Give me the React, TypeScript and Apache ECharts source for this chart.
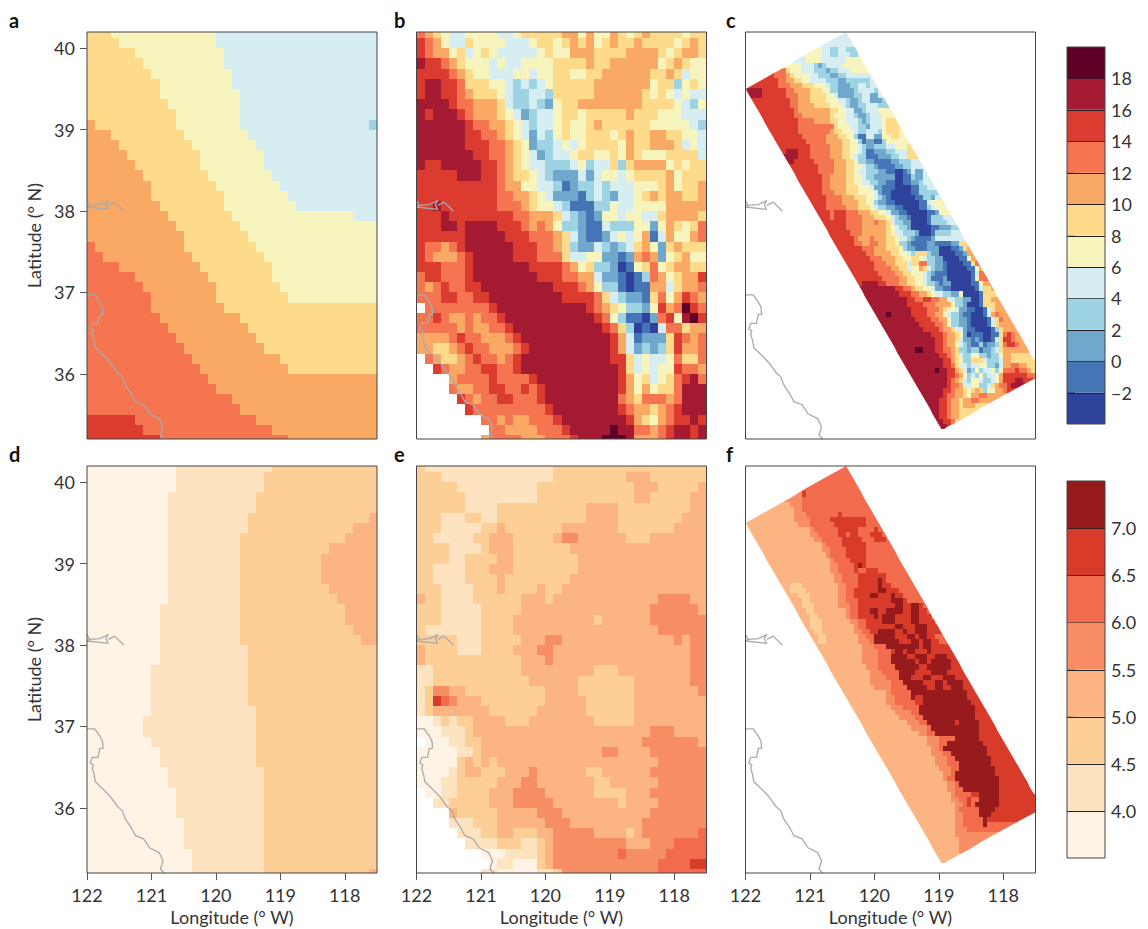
import React, { useEffect, useRef } from "react";
import * as echarts from "echarts";

// Row data: each token is <level><end column>; "." means no data.
const panelA = [
  "63 516 436","64 516 436","66 517 436","67 517 436","68 518 436","69 518 436","69 519 436","610 519 436","611 519 436",
  "71 611 519 435 336","73 612 520 436","74 613 521 436","75 614 522 436","76 614 522 436","77 615 523 436","78 616 524 436",
  "78 617 525 436","79 617 526 436","710 618 533 436","711 619 536","712 620 536","81 712 621 536","82 713 622 536",
  "84 714 623 536","86 715 623 536","87 716 624 536","88 716 625 536","88 717 636","89 719 636","810 720 636","811 721 636",
  "812 722 636","813 724 636","814 725 636","815 736","816 736","818 736","819 736","96 821 736","97 823 736","99 825 736",
];
const panelB = [
  "81 72 63 54 46 510 412 513 618 720 521 722 524 725 626 527 628 729 633 534 636",
  "91 82 73 54 46 67 511 414 515 617 518 619 720 621 722 523 624 725 627 728 632 533 634 735 636",
  "91 82 74 55 66 47 58 69 510 415 516 617 519 722 626 730 631 532 633 735 636",
  "a1 93 84 75 66 59 410 511 413 517 621 722 624 730 531 632 733 634 536",
  "94 85 76 67 59 412 514 415 517 619 521 623 729 631 732 633 434 536",
  "91 a3 95 86 69 511 412 313 414 315 416 517 622 729 530 632 333 534 635 536",
  "91 a3 95 86 77 610 511 412 314 416 317 622 728 629 530 631 532 433 534 436",
  "a4 95 87 710 611 412 314 415 316 217 518 620 728 632 533 434 335 536",
  "a1 92 a5 96 87 710 611 512 413 214 315 417 518 620 521 626 727 630 533 436",
  "a6 97 89 711 612 513 414 315 417 518 619 521 622 723 629 534 435 336",
  "a6 98 810 711 612 513 414 215 416 317 518 619 521 624 525 626 727 629 731 633 535 436",
  "a6 99 811 712 613 514 215 317 418 519 420 521 625 526 727 629 732 633 434 535 436",
  "a7 99 811 712 613 514 415 216 317 419 520 622 524 625 526 727 628 531 635 436",
  "a1 93 a8 910 811 712 613 514 416 319 420 521 322 424 625 326 627 731 532 633 534 636",
  "95 a8 910 811 712 614 515 416 317 220 421 222 423 525 426 527 631 732 533 636",
  "910 811 713 515 417 318 119 220 322 423 324 427 530 631 732 533 635 736",
  "910 812 714 615 516 417 220 121 322 423 324 225 427 528 629 730 631 733 635 736",
  "92 a3 910 813 714 615 517 418 319 122 324 525 427 531 736",
  "93 a4 912 814 717 618 419 320 221 122 223 525 426 528 430 631 735 636",
  "93 a5 96 a10 913 814 715 816 717 518 320 221 123 424 327 529 230 531 732 633 534 635 836",
  "96 a11 914 817 718 619 420 221 123 224 425 526 427 528 729 130 431 732 534 735 836",
  "91 83 74 85 96 a12 915 817 718 619 320 222 423 324 225 326 427 628 729 530 231 632 733 636",
  "91 82 75 86 97 a12 915 818 619 421 523 225 126 227 728 829 730 231 532 633 734 536",
  "93 86 97 a14 918 819 720 521 622 324 225 026 127 528 629 830 531 632 734 636",
  "81 93 86 97 a15 918 820 722 423 225 126 027 128 329 830 731 532 633 735 936",
  "81 72 83 94 86 98 a17 920 821 722 523 325 126 027 129 731 432 633 735 836",
  "83 95 87 99 a18 922 823 624 425 326 228 129 630 831 532 733 934 835 736",
  ".1 89 910 a21 922 823 724 625 526 328 229 530 931 732 833 b34 935 836",
  "82 93 84 76 87 78 810 911 a22 923 824 525 326 128 029 230 831 932 533 a34 b35 936",
  "85 76 87 79 811 912 a23 924 825 626 327 028 129 030 431 833 634 736",
  "74 85 96 88 711 812 913 a24 925 726 427 128 231 632 933 834 735 836",
  "72 64 75 86 97 89 712 813 914 a24 925 726 427 228 329 230 331 632 933 735 836",
  ".1 82 73 65 76 87 98 810 711 812 913 a24 926 627 428 529 431 532 833 635 836",
  ".2 93 84 76 88 910 812 913 a25 926 627 428 529 430 532 933 835 736",
  ".4 75 89 910 814 915 a25 926 727 528 629 430 531 632 833 934 a35 836",
  ".4 85 77 89 911 813 914 815 916 a25 926 727 528 729 530 632 833 a36",
  ".5 96 87 78 810 912 815 916 a25 826 727 628 831 732 833 a36",
  ".6 97 816 917 a25 926 827 729 630 731 832 933 a36",
  ".8 810 711 812 714 817 918 a26 927 728 629 530 731 832 934 a35 936",
  ".9 811 715 818 919 a24 b25 a27 829 730 831 932 a34 935 a36",
  ".8 79 813 716 819 920 a23 b26 a27 730 831 932 a34 935 a36",
];
const panelC = [
  "472","472","472","519 421 323 425 328 472","519 421 323 426 328 472","415 519 425 530 472",
  "514 417 318 219 320 424 530 472","810 611 514 417 320 221 323 426 531 472","97 810 711 612 516 418 321 223 325 472",
  "98 810 712 614 516 420 323 225 331 472","98 811 714 617 520 421 323 226 328 430 331 472",
  "a4 910 812 716 619 521 323 227 328 432 333 472","a4 910 813 716 620 522 423 227 329 431 233 472",
  "911 813 716 620 523 425 326 228 329 431 234 372","911 813 717 621 524 425 326 228 330 433 372",
  "912 813 721 623 525 427 229 330 433 572","912 814 721 622 525 427 328 230 331 434 572",
  "913 817 721 623 525 428 329 230 331 434 535 672","913 822 623 526 428 330 231 434 535 672",
  "913 821 722 624 527 428 330 433 334 535 638 572","914 820 723 625 527 328 130 432 234 536 638 572",
  "915 820 724 626 528 329 130 232 134 335 572","916 821 724 626 528 429 330 232 335 437 540 672",
  "910 a13 916 821 724 626 528 429 330 132 235 337 440 672","a13 916 821 724 626 527 428 330 133 236 338 440 672",
  "a12 917 822 725 627 528 330 232 136 238 341 472","918 822 725 627 529 430 332 233 137 239 341 472",
  "918 822 725 627 528 430 333 235 137 039 140 241 442 244 472","919 821 725 627 529 430 332 237 039 141 342 244 472",
  "919 821 725 627 529 431 333 235 137 039 141 243 344 472","919 821 725 628 531 432 234 137 041 143 345 472",
  "919 822 725 628 532 433 234 136 041 143 372","920 824 727 630 532 433 334 235 136 042 144 346 247 472",
  "920 824 728 630 532 333 235 137 043 145 446 549 472","920 825 728 631 532 433 335 237 139 043 145 346 447 572",
  "921 822 925 828 731 633 535 436 238 140 045 147 248 572","921 822 925 829 732 635 536 437 338 240 141 045 146 349 472",
  "925 829 732 833 735 636 437 339 241 045 146 350 472","925 829 735 636 537 438 340 241 046 148 251 372",
  "926 829 735 636 537 439 342 243 046 147 351 472","927 828 731 832 735 637 538 440 341 242 146 247 472",
  "927 829 731 833 735 637 538 340 241 145 247 151 253 672","929 832 735 638 539 340 242 145 248 051 153 254 655 772",
  "930 832 736 638 540 441 342 645 346 248 052 154 255 772","931 834 737 639 541 643 544 445 347 249 053 155 556 772",
  "932 835 737 640 441 643 845 347 249 150 054 156 657 872","932 836 738 640 441 543 744 645 446 347 249 150 055 157 558 772",
  "933 837 739 641 544 445 346 247 150 056 157 458 872","934 838 740 642 544 445 346 149 250 056 157 558 872",
  "929 a33 935 838 740 642 544 445 347 248 149 251 056 158 559 772","a37 939 841 742 644 546 447 249 151 057 158 459 661 772",
  "a38 941 843 745 646 547 449 351 253 554 058 159 663 772","a40 942 844 946 848 750 452 354 255 555 256 058 159 661 772",
  "a40 944 847 751 552 354 255 058 159 662 772","a41 945 848 749 650 552 453 255 157 059 160 461 662 772",
  "a35 b36 a41 945 847 749 550 451 353 254 156 059 160 461 762 863 772","a42 946 848 750 551 353 255 156 060 161 462 663 864 772",
  "a43 947 849 750 551 353 255 156 060 161 462 663 772","a44 948 849 751 652 454 255 157 061 162 363 664 772",
  "a46 949 850 752 653 554 255 056 159 061 163 463 664 865 966 867 772","a47 949 850 752 653 454 256 157 258 159 061 162 463 664 966 867 772",
  "a47 949 850 752 553 454 355 256 158 359 160 262 363 664 865 967 868 772","a42 b44 a47 949 851 752 653 355 256 358 159 261 362 463 664 772",
  "a48 950 851 752 653 454 356 558 360 261 363 564 766 672","a49 951 851 752 653 554 356 659 460 363 464 766 672",
  "a49 951 852 653 455 356 458 560 362 263 464 766 868 770 672","a47 b48 a50 952 753 654 455 256 357 558 359 461 562 363 564 867 968 870 771 672",
  "a50 952 853 754 555 356 457 358 559 360 462 563 764 970 872","a50 951 852 753 654 455 356 558 459 361 462 563 764 967 a69 972",
  "a50 951 853 754 456 558 458 360 461 662 763 865 966 a72","a49 951 852 754 655 556 657 758 659 360 562 764 865 972",
  "a49 950 852 754 655 556 758 860 772","a48 950 851 753 654 756 858 772","a48 950 851 753 654 757 672","a48 950 851 753 672",
  "a48 950 851 753 672","a49 951 852 672","a50 951 872",
];
const panelD = [
  "011 123 236","011 122 236","011 122 236","010 121 236","010 121 236","010 120 235 336","010 120 233 336","010 119 232 336",
  "010 119 230 336","010 119 229 336","010 119 229 336","010 119 229 336","010 119 230 336","010 119 231 336","09 119 232 336",
  "09 119 232 336","09 119 233 336","09 119 234 336","09 120 236","09 120 236","08 120 236","08 120 236","08 120 236","08 120 236",
  "08 121 236","07 121 236","07 121 236","08 121 236","09 121 236","09 121 236","010 122 236","010 122 236","011 122 236",
  "011 122 236","011 122 236","012 122 236","012 122 236","012 122 236","013 122 236","013 122 236","013 122 235 336",
];
const panelE = [
  "21 117 236","23 117 226 329 236","25 115 227 330 235 336","26 115 227 329 234 336","26 110 221 325 234 336",
  "23 16 28 110 221 325 233 336","23 18 210 311 218 325 232 336","22 17 29 312 217 318 420 326 229 336","24 18 29 312 219 336",
  "24 16 210 312 220 336","22 16 29 312 220 336","22 16 210 311 219 336","23 17 210 311 215 316 218 336",
  "31 23 17 213 316 217 330 434 336","23 18 213 329 435 336","23 18 212 322 223 329 436","21 18 212 330 436",
  "25 18 213 316 418 332 433 334 436","31 25 18 212 315 417 334 436","31 213 316 417 334 436","12 213 322 225 334 436",
  "12 214 320 227 334 436","11 22 44 36 216 320 227 335 436","11 22 63 54 45 38 216 321 227 336","11 22 39 215 321 227 336",
  "02 13 24 15 27 311 214 322 227 336","03 16 27 329 432 336",".1 04 16 28 328 435 336","05 17 28 323 425 329 436",
  "05 26 37 28 39 210 330 436","04 15 26 38 211 314 415 321 223 329 436","03 15 210 313 415 322 224 330 436",
  ".1 03 15 29 312 416 322 226 329 436",".2 14 29 312 417 325 226 330 436",".4 35 210 315 418 329 436",".4 17 210 316 419 328 436",
  ".5 18 210 312 215 317 422 326 227 328 435 536",".6 110 213 115 216 317 426 329 432 536",".8 011 115 216 317 425 526 431 536",
  ".9 010 112 015 216 317 430 534 636",".8 110 015 117 218 430 536",
];
const panelF = [
  "572","572","572","572","572","414 615 572","414 572","311 414 572","312 414 572","312 415 523 624 572","312 416 521 630 572",
  "313 416 522 630 572","316 417 523 628 532 633 572","316 418 523 625 526 628 531 634 572","317 419 524 629 532 635 572",
  "319 420 524 630 572","319 421 525 630 572","320 421 525 630 572","321 422 526 630 572","321 423 527 628 729 630 572",
  "321 423 527 628 530 633 572","322 424 528 635 572","322 424 528 633 734 635 572","311 214 323 425 528 633 734 636 572",
  "311 215 323 425 527 633 735 638 572","313 216 323 425 527 631 733 636 737 639 572","314 216 323 425 528 636 739 640 572",
  "314 217 323 426 528 637 739 641 743 644 572","315 217 325 426 528 631 733 635 739 641 743 645 572",
  "316 218 325 426 528 632 733 634 737 641 743 646 572","316 219 326 428 530 634 737 641 743 647 572",
  "316 219 327 428 530 637 739 642 745 648 572","317 219 327 429 531 633 737 639 740 642 745 649 572",
  "318 220 328 430 532 737 640 742 643 745 647 572","318 220 328 431 532 738 641 743 644 746 648 572",
  "329 432 535 743 644 746 672","329 433 536 637 739 640 742 645 746 672","329 433 536 740 642 745 647 750 672",
  "329 433 536 742 643 745 646 751 672","330 433 537 743 645 751 672","331 434 538 742 646 750 672",
  "331 435 538 741 644 746 649 752 672","331 436 539 744 647 749 650 754 672","332 436 540 745 647 749 651 754 672",
  "335 436 541 755 672","335 437 541 742 644 755 672","335 437 542 644 756 672","336 439 543 757 672","337 441 543 757 672",
  "338 442 544 757 672","340 443 545 752 653 758 672","341 445 546 758 672","343 445 547 758 672","345 448 552 758 672",
  "345 448 550 759 672","346 448 549 760 672","346 449 551 760 672","347 450 552 761 672","347 450 553 761 672",
  "348 451 553 762 672","349 451 552 762 672","349 450 552 763 672","350 452 553 763 672","350 452 554 763 672",
  "351 452 556 658 763 672","351 453 555 656 558 763 672","352 454 555 656 557 763 672","352 453 558 762 672",
  "352 454 558 761 672","352 454 559 760 672","352 454 559 760 572","352 455 572","352 472","353 472","353 472","353 472","372","372",
];

// Model swath outline (longitude west, latitude north)
const swathOutline: number[][] = [[122, 39.5], [120.44, 40.2], [117.5, 36.14], [117.5, 35.95], [118.95, 35.31]];

// Coastline pieces (longitude west, latitude north)
const coastLine: number[][] = [
  [122,36.97],[121.88,36.97],[121.8,36.88],[121.76,36.82],[121.75,36.73],[121.8,36.73],[121.83,36.62],[121.92,36.62],[121.95,36.55],
  [121.9,36.53],[121.92,36.49],[121.89,36.41],[121.87,36.32],[121.75,36.23],[121.64,36.14],[121.53,36.02],[121.45,35.96],[121.41,35.87],
  [121.31,35.75],[121.25,35.66],[121.12,35.62],[121.03,35.51],[120.88,35.45],[120.82,35.35],[120.86,35.25],[120.8,35.2],
];
const bayLine: number[][] = [[122,38.13],[121.96,38.07],[122,38.05],[121.67,38.02],[121.71,38.08],[121.67,38.13],[121.8,38.08],[121.96,38.07]];
const deltaLine: number[][] = [[121.67,38.07],[121.57,38.11],[121.43,38.0]];

const tempColors = ["#2f429b","#4575b4","#6fa8cc","#9dd3e3","#d6edf1","#f7f4bd","#fedb8b","#faa965","#f4754f","#dc3c30","#a31a32","#5e0028"];
const rainColors = ["#fff3e6","#fee3c1","#fdcf97","#fcb482","#f78d62","#f26b4d","#d93b2a","#971a1c"];
const tempEdges = [-4,-2,0,2,4,6,8,10,12,14,16,18,20];
const rainEdges = [3.5,4,4.5,5,5.5,6,6.5,7,7.5];
const tempTicks = [-2,0,2,4,6,8,10,12,14,16,18];
const rainTicks = [4,4.5,5,5.5,6,6.5,7];
const lonTicks = [122,121,120,119,118];
const latTicks = [40,39,38,37,36];
const letters = ["a","b","c","d","e","f"];

const FONT = "Lato";
const INK = "#333";
const TICK = "#555";
const lefts = [87, 416.5, 745.5];
const tops = [32, 466];
const W = 290;
const H = 407;

function coarseRows(rows: string[]) {
  const out: number[][] = [];
  const edge = (i: number) => (i === 0 ? 40.2 : i >= 41 ? 35.2 : 40.125 - 0.125 * (i - 1));
  rows.forEach((row, i) => {
    let start = 0;
    row.split(" ").forEach((t) => {
      const end = +t.slice(1);
      if (t[0] !== ".") out.push([122 - start * 0.125, 122 - end * 0.125, edge(i), edge(i + 1), parseInt(t[0], 16)]);
      start = end;
    });
  });
  return out;
}
function fineRows(rows: string[]) {
  const out: number[][] = [];
  rows.forEach((row, i) => {
    let start = 0;
    row.split(" ").forEach((t) => {
      const end = +t.slice(1);
      out.push([122 - start * 0.0625, 122 - end * 0.0625, 40.2 - i * 0.0625, 40.2 - (i + 1) * 0.0625, parseInt(t[0], 16)]);
      start = end;
    });
  });
  return out;
}
function clipToSwath(pts: number[][]) {
  let area = 0;
  swathOutline.forEach((p, i) => {
    const q = swathOutline[(i + 1) % swathOutline.length];
    area += p[0] * q[1] - q[0] * p[1];
  });
  const s = area > 0 ? 1 : -1;
  let res = pts;
  swathOutline.forEach((a, i) => {
    const b = swathOutline[(i + 1) % swathOutline.length];
    const side = (p: number[]) => s * ((b[0] - a[0]) * (p[1] - a[1]) - (b[1] - a[1]) * (p[0] - a[0]));
    const next: number[][] = [];
    res.forEach((p, j) => {
      const q = res[(j + 1) % res.length];
      const sp = side(p);
      const sq = side(q);
      if (sp >= 0) next.push(p);
      if (sp >= 0 !== sq >= 0) {
        const t = sp / (sp - sq);
        next.push([p[0] + (q[0] - p[0]) * t, p[1] + (q[1] - p[1]) * t]);
      }
    });
    res = next;
  });
  return res;
}
const rectRender = (colors: string[]) => (_: any, api: any) => {
  const a = api.coord([api.value(0), api.value(2)]);
  const b = api.coord([api.value(1), api.value(3)]);
  const x = Math.round(a[0]);
  const y = Math.round(a[1]);
  return {
    type: "rect",
    shape: { x, y, width: Math.round(b[0]) - x, height: Math.round(b[1]) - y },
    style: { fill: colors[api.value(4)] },
  };
};
const swathRender = (colors: string[]) => (_: any, api: any) => {
  const l = api.value(0), r = api.value(1), t = api.value(2), bt = api.value(3);
  const pts = clipToSwath([[l, t], [r, t], [r, bt], [l, bt]]);
  if (pts.length < 3) return null;
  const fill = colors[api.value(4)];
  // Snap only the run boundaries; points cut by the slanted swath edge keep their exact x.
  const points = pts.map((p) => {
    const c = api.coord(p);
    const onRunEdge = Math.abs(p[0] - l) < 1e-9 || Math.abs(p[0] - r) < 1e-9;
    return [onRunEdge ? Math.round(c[0]) : c[0], Math.round(c[1])];
  });
  return { type: "polygon", shape: { points }, style: { fill } };
};
const barRender = (colors: string[]) => (_: any, api: any) => {
  const a = api.coord([0, api.value(1)]);
  const b = api.coord([1, api.value(0)]);
  const fill = colors[api.value(2)];
  const children: any[] = [
    { type: "rect", shape: { x: a[0], y: a[1], width: b[0] - a[0], height: b[1] - a[1] }, style: { fill } },
  ];
  if (api.value(2) < colors.length - 1) {
    children.push({ type: "line", shape: { x1: a[0], y1: Math.round(a[1]) + 0.5, x2: b[0], y2: Math.round(a[1]) + 0.5 }, style: { stroke: "#222", lineWidth: 1 } });
  }
  return { type: "group", children };
};

export default function App() {
  const ref = useRef<HTMLDivElement>(null);
  useEffect(() => {
    document.body.style.margin = "0";
    const chart = echarts.init(ref.current!, undefined, { renderer: "svg" });
    const grid: any[] = [];
    const xAxis: any[] = [];
    const yAxis: any[] = [];
    const series: any[] = [];
    const graphic: any[] = [];
    const panels = [
      { d: coarseRows(panelA), c: tempColors, swath: false },
      { d: coarseRows(panelB), c: tempColors, swath: false },
      { d: fineRows(panelC), c: tempColors, swath: true },
      { d: coarseRows(panelD), c: rainColors, swath: false },
      { d: coarseRows(panelE), c: rainColors, swath: false },
      { d: fineRows(panelF), c: rainColors, swath: true },
    ];
    panels.forEach((p, i) => {
      const col = i % 3;
      const row = i < 3 ? 0 : 1;
      grid.push({ left: lefts[col], top: tops[row], width: W, height: H, outerBoundsMode: "none" });
      const showX = row === 1;
      const showY = col === 0;
      xAxis.push({
        type: "value", gridIndex: i, min: 117.5, max: 122, inverse: true, splitLine: { show: false },
        axisLine: { show: false },
        axisTick: { show: showX, length: 7, customValues: lonTicks, lineStyle: { color: TICK, width: 1 } },
        axisLabel: { show: showX, customValues: lonTicks, margin: 13, color: INK, fontFamily: FONT, fontSize: 18 },
        name: showX ? "Longitude (° W)" : "", nameLocation: "middle", nameGap: 35,
        nameTextStyle: { color: INK, fontFamily: FONT, fontSize: 18 },
      });
      yAxis.push({
        type: "value", gridIndex: i, min: 35.2, max: 40.2, splitLine: { show: false },
        axisLine: { show: false },
        axisTick: { show: showY, length: 7, customValues: latTicks, lineStyle: { color: TICK, width: 1 } },
        axisLabel: { show: showY, customValues: latTicks, margin: 12, color: INK, fontFamily: FONT, fontSize: 18 },
        name: showY ? "Latitude (° N)" : "", nameLocation: "middle", nameGap: 44,
        nameTextStyle: { color: INK, fontFamily: FONT, fontSize: 18 },
      });
      series.push({
        type: "custom", xAxisIndex: i, yAxisIndex: i, silent: true, z: 2,
        renderItem: p.swath ? swathRender(p.c) : rectRender(p.c),
        encode: { x: [0, 1], y: [2, 3] }, data: p.d,
      });
      [coastLine, bayLine, deltaLine].forEach((piece) => {
        series.push({
          type: "line", xAxisIndex: i, yAxisIndex: i, silent: true, z: 3, symbol: "none",
          lineStyle: { color: "#aaaaaa", width: 1.3 }, data: piece,
        });
      });
      graphic.push({
        type: "rect", z: 100, silent: true,
        shape: { x: lefts[col], y: tops[row], width: W, height: H },
        style: { fill: "transparent", stroke: "#444", lineWidth: 1 },
      });
      graphic.push({
        type: "text", z: 100, silent: true,
        x: [9, 394, 726][col], y: row === 0 ? 10 : 444,
        style: { text: letters[i], fill: "#111", font: `bold 20px ${FONT}` },
      });
    });
    const bars = [
      { edges: tempEdges, colors: tempColors, ticks: tempTicks, top: 47, fmt: (v: number) => (v < 0 ? "\u2212" + Math.abs(v) : String(v)) },
      { edges: rainEdges, colors: rainColors, ticks: rainTicks, top: 481, fmt: (v: number) => v.toFixed(1) },
    ];
    bars.forEach((b, k) => {
      const idx = panels.length + k;
      grid.push({ left: 1067, top: b.top, width: 38, height: 377, outerBoundsMode: "none" });
      xAxis.push({ type: "value", gridIndex: idx, min: 0, max: 1, show: false });
      yAxis.push({
        type: "value", gridIndex: idx, position: "right", min: b.edges[0], max: b.edges[b.edges.length - 1],
        splitLine: { show: false }, axisLine: { show: false },
        axisTick: { show: true, length: 8, customValues: b.ticks, lineStyle: { color: "#333", width: 1 } },
        axisLabel: { show: true, customValues: b.ticks, margin: 6, color: INK, fontFamily: FONT, fontSize: 18, formatter: b.fmt },
      });
      series.push({
        type: "custom", xAxisIndex: idx, yAxisIndex: idx, silent: true, z: 2,
        renderItem: barRender(b.colors),
        encode: { y: [0, 1] },
        data: b.colors.map((_, j) => [b.edges[j], b.edges[j + 1], j]),
      });
      graphic.push({
        type: "rect", z: 100, silent: true,
        shape: { x: 1067, y: b.top, width: 38, height: 377 },
        style: { fill: "transparent", stroke: "#444", lineWidth: 1 },
      });
    });
    chart.setOption({ animation: false, backgroundColor: "#fff", grid, xAxis, yAxis, series, graphic });
    return () => chart.dispose();
  }, []);
  return <div ref={ref} style={{ position: "fixed", left: 0, top: 0, width: 1148, height: 929 }} />;
}
